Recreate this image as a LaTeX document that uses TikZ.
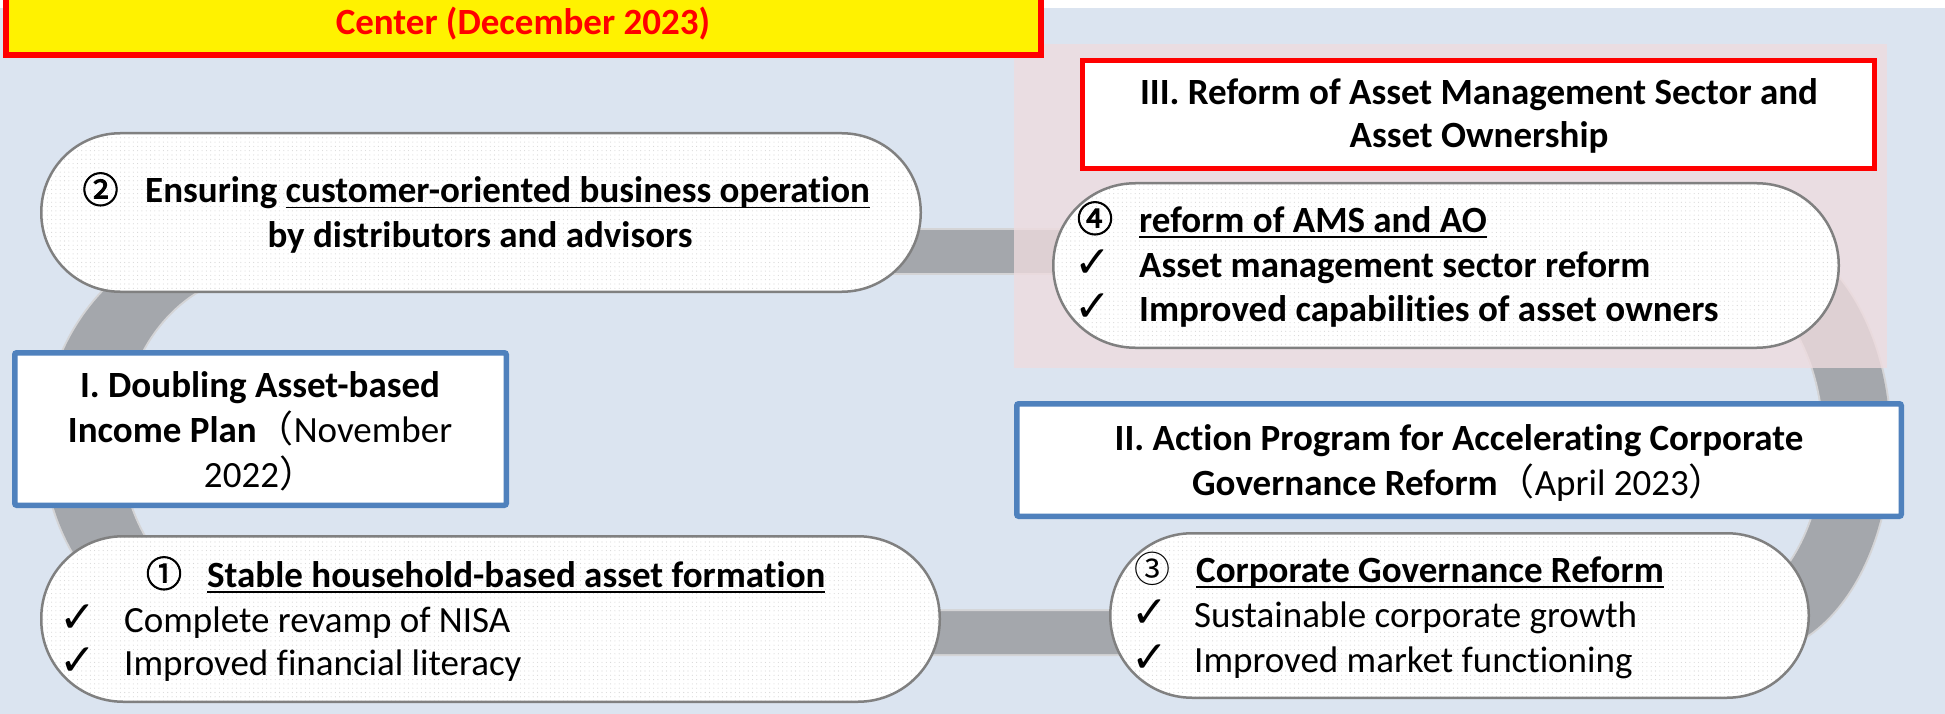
\documentclass[tikz,border=0pt]{standalone}
\usepackage{fontspec}
\setmainfont[Ligatures={NoCommon}]{Carlito}
\newfontfamily\cjk{Noto Sans CJK JP}
\newfontfamily\cjkbold[FakeBold=2.5]{Noto Sans CJK JP}
\newfontfamily\symfont{DejaVu Sans}
\usetikzlibrary{calc,patterns.meta}
\definecolor{bgblue}{RGB}{219,228,240}
\definecolor{pinkbg}{RGB}{239,220,223}
\definecolor{trackgray}{RGB}{164,167,172}
\definecolor{trackedge}{RGB}{212,212,214}
\definecolor{boxblue}{RGB}{79,129,189}
\definecolor{pillgray}{RGB}{128,128,128}
\newcommand\ulx[1]{\setbox0\hbox{#1}\rlap{\rule[-5.5pt]{\wd0}{1.8pt}}\box0}
\tikzdeclarepattern{
  name=pilldots,
  type=uncolored,
  bounding box={(-1pt,-1pt) and (1pt,1pt)},
  tile size={(4.3pt,4.3pt)},
  code={\fill (0pt,0pt) circle (0.55pt);}
}
\tikzset{
  pill/.style={draw=pillgray, line width=2.5pt, preaction={fill=white},
    pattern={pilldots}, pattern color=black!16, rounded corners=#1, inner sep=0pt},
  bluebox/.style={draw=boxblue, line width=5.5pt, fill=white, rounded corners=2pt, inner sep=0pt},
  redbox/.style={draw=red, line width=5pt, fill=white, inner sep=0pt},
  txt/.style={inner sep=0pt, anchor=base west},
  ctxt/.style={inner sep=0pt, anchor=base},
  num/.style={inner sep=0pt, anchor=base, font=\cjkbold\fontsize{36}{36}\selectfont},
  numthin/.style={inner sep=0pt, anchor=base, font=\cjk\fontsize{36}{36}\selectfont},
  chk/.style={inner sep=0pt, anchor=base, font=\symfont\fontsize{44}{44}\selectfont},
}
\begin{document}
\begin{tikzpicture}[x=1pt, y=-1pt, font=\fontsize{37}{44}\selectfont]
\useasboundingbox (0,0) rectangle (1945,714);
\clip (0,0) rectangle (1945,714);
% backgrounds
\fill[white] (0,0) rectangle (1945,714);
\fill[bgblue] (0,8) rectangle (1945,714);
% track (racetrack band)
\fill[trackedge] (244,442) ellipse [x radius=202pt, y radius=214pt]
  (244,228) rectangle (1750,656)
  (1750,442) ellipse [x radius=142pt, y radius=214pt];
\fill[trackgray] (244,442) ellipse [x radius=200pt, y radius=212pt]
  (244,230) rectangle (1750,654)
  (1750,442) ellipse [x radius=140pt, y radius=212pt];
\fill[trackedge] (262,442) ellipse [x radius=142pt, y radius=169pt]
  (262,273) rectangle (1711,611)
  (1711,442) ellipse [x radius=113pt, y radius=169pt];
\fill[bgblue] (262,442) ellipse [x radius=140pt, y radius=167pt]
  (262,275) rectangle (1711,609)
  (1711,442) ellipse [x radius=111pt, y radius=167pt];
% pink overlay
\fill[pinkbg, opacity=0.78] (1014,44) rectangle (1887,368);
% yellow title box
\node[draw=red, line width=6pt, fill=yellow, minimum width=1035pt, minimum height=100pt, inner sep=0pt] (ybox) at (523.5,5) {};
\node[ctxt, text=red, font=\fontsize{37}{44}\selectfont\bfseries] (title) at (523,35) {Center (December 2023)};
% frame boxes
\node[bluebox, minimum width=491.5pt, minimum height=152.5pt] (boxI) at (260.5,429) {};
\node[bluebox, minimum width=884.5pt, minimum height=112.5pt] (boxII) at (1459,460) {};
\node[redbox, minimum width=792pt, minimum height=108pt] (boxIII) at (1478.5,114.5) {};
% pills
\node[pill=79pt, minimum width=879.5pt, minimum height=158.5pt] (p2) at (481,212.5) {};
\node[pill=82pt, minimum width=785.5pt, minimum height=164.5pt] (p4) at (1446,265.5) {};
\node[pill=82pt, minimum width=898.5pt, minimum height=165.5pt] (p1) at (490.5,619) {};
\node[pill=82pt, minimum width=698.5pt, minimum height=164.5pt] (p3) at (1459.5,615.5) {};
% box texts
\node[ctxt, font=\fontsize{37}{44}\selectfont\bfseries] (bI1) at (260,397) {I. Doubling Asset-based};
\node[ctxt] (bI2) at (260,442) {\textbf{Income Plan}{\cjk （}November};
\node[ctxt] (bI3) at (260,487) {2022{\cjk ）}};
\node[ctxt, font=\fontsize{37}{44}\selectfont\bfseries] (bII1) at (1459,450) {II. Action Program for Accelerating Corporate};
\node[ctxt] (bII2) at (1459,495) {\textbf{Governance Reform}{\cjk （}April 2023{\cjk ）}};
\node[ctxt, font=\fontsize{37}{44}\selectfont\bfseries] (bIII1) at (1479,105) {III. Reform of Asset Management Sector and};
\node[ctxt, font=\fontsize{37}{44}\selectfont\bfseries] (bIII2) at (1479,148) {Asset Ownership};
% pill 2
\node[num] (n2) at (100.5,203) {②};
\node[txt, font=\fontsize{37}{44}\selectfont\bfseries] (p2a) at (145,203) {Ensuring \ulx{customer-oriented business operation}};
\node[ctxt, font=\fontsize{37}{44}\selectfont\bfseries] (p2b) at (480,247) {by distributors and advisors};
% pill 4
\node[num] (n4) at (1095,232) {④};
\node[txt, font=\fontsize{37}{44}\selectfont\bfseries] (p4a) at (1139,232) {\ulx{reform of AMS and AO}};
\node[chk] (c4a) at (1093,277) {✓};
\node[txt, font=\fontsize{37}{44}\selectfont\bfseries] (p4b) at (1139,277) {Asset management sector reform};
\node[chk] (c4b) at (1093,321) {✓};
\node[txt, font=\fontsize{37}{44}\selectfont\bfseries] (p4c) at (1139,321) {Improved capabilities of asset owners};
% pill 1
\node[num] (n1) at (164,587) {①};
\node[txt, font=\fontsize{37}{44}\selectfont\bfseries] (p1a) at (207,587) {\ulx{Stable household-based asset formation}};
\node[chk] (c1a) at (78,632) {✓};
\node[txt] (p1b) at (124,632) {Complete revamp of NISA};
\node[chk] (c1b) at (78,675) {✓};
\node[txt] (p1c) at (124,675) {Improved financial literacy};
% pill 3
\node[numthin] (n3) at (1152,582) {③};
\node[txt, font=\fontsize{37}{44}\selectfont\bfseries] (p3a) at (1196,582) {\ulx{Corporate Governance Reform}};
\node[chk] (c3a) at (1150,627) {✓};
\node[txt] (p3b) at (1194,627) {Sustainable corporate growth};
\node[chk] (c3b) at (1150,672) {✓};
\node[txt] (p3c) at (1194,672) {Improved market functioning};
\end{tikzpicture}
\end{document}
